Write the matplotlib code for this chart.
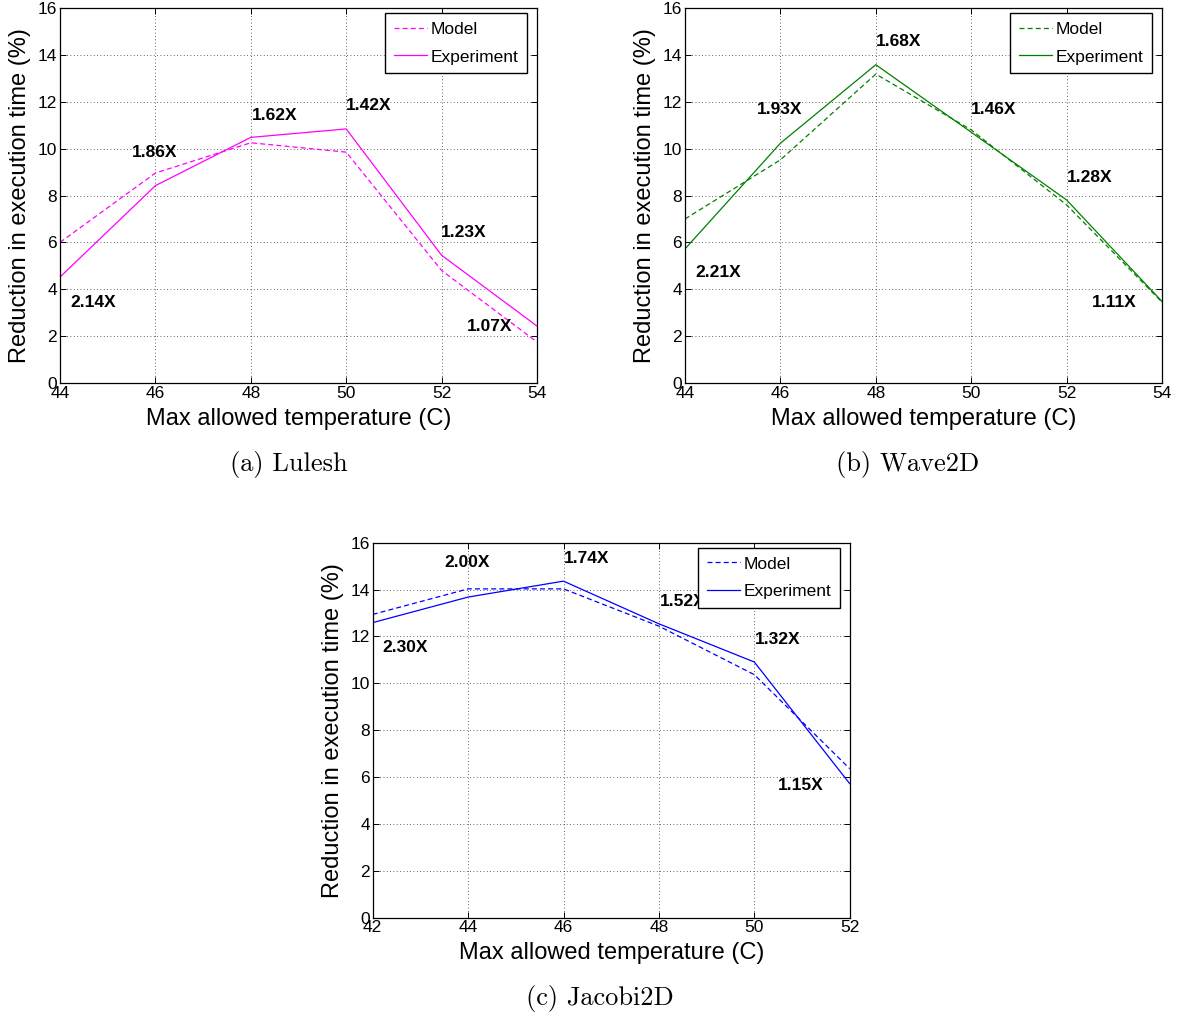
import matplotlib
matplotlib.use('Agg')
import matplotlib.pyplot as plt
import numpy as np

plt.rcParams['font.family'] = ['Liberation Sans', 'DejaVu Sans']

# ---- data ----
temps_ab = [44, 46, 48, 50, 52, 54]
temps_c = [42, 44, 46, 48, 50, 52]

lulesh_model = [6.0, 8.96, 10.25, 9.85, 4.8, 1.75]
lulesh_exp = [4.52, 8.42, 10.48, 10.84, 5.45, 2.43]
lulesh_speedup = ['2.14X', '1.86X', '1.62X', '1.42X', '1.23X', '1.07X']
lulesh_lab_xy = [(44.21, 3.45), (45.5, 9.84), (48.02, 11.43), (50.0, 11.83), (51.99, 6.43), (52.52, 2.43)]

wave_model = [7.0, 9.52, 13.18, 10.8, 7.6, 3.45]
wave_exp = [5.72, 10.23, 13.58, 10.7, 7.81, 3.48]
wave_speedup = ['2.21X', '1.93X', '1.68X', '1.46X', '1.28X', '1.11X']
wave_lab_xy = [(44.21, 4.73), (45.5, 11.69), (48.0, 14.57), (50.0, 11.69), (52.0, 8.78), (52.52, 3.45)]

jacobi_model = [12.94, 14.03, 14.03, 12.44, 10.37, 6.36]
jacobi_exp = [12.59, 13.68, 14.36, 12.54, 10.91, 5.72]
jacobi_speedup = ['2.30X', '2.00X', '1.74X', '1.52X', '1.32X', '1.15X']
jacobi_lab_xy = [(42.2, 11.52), (43.5, 15.17), (46.0, 15.34), (48.03, 13.51), (50.01, 11.87), (50.5, 5.65)]

W, H = 1177, 1019
fig = plt.figure(figsize=(W / 100, H / 100), dpi=100)


def panel(rect, temps, model, exp, labels, lab_xy, color, caption, cap_xy):
    ax = fig.add_axes(rect)
    ax.plot(temps, model, color=color, lw=0.9, dashes=(4, 2.5), label='Model')
    ax.plot(temps, exp, color=color, lw=0.9, label='Experiment')
    ax.set_xlim(temps[0], temps[-1])
    ax.set_ylim(0, 16)
    ax.set_xticks(temps)
    ax.set_yticks(np.arange(0, 17, 2))
    ax.grid(True, linestyle=(0, (1, 3)), color='black', lw=0.6, alpha=0.8)
    ax.tick_params(direction='in', top=True, right=True, labelsize=12.5,
                   length=4, width=0.7, pad=2)
    for s in ax.spines.values():
        s.set_linewidth(0.9)
    ax.set_xlabel('Max allowed temperature (C)', fontsize=17)
    ax.set_ylabel('Reduction in execution time (%)', fontsize=17)
    ax.xaxis.set_label_coords(0.5, -0.066)
    ax.yaxis.set_label_coords(-0.06, 0.5)
    for t, (x, y) in zip(labels, lab_xy):
        ax.text(x, y, t, fontsize=12.5, fontweight='bold', ha='left', va='center')
    leg = ax.legend(loc='upper right', bbox_to_anchor=(0.979, 0.9866),
                    borderaxespad=0, fancybox=False, fontsize=12.5,
                    handlelength=1.9, handletextpad=0.2, labelspacing=0.72,
                    borderpad=0.5, framealpha=1)
    leg.get_frame().set_edgecolor('black')
    leg.get_frame().set_linewidth(1.0)
    fig.text(cap_xy[0], cap_xy[1], caption, family='cmr10', fontsize=19,
             ha='center', va='center')
    return ax


aw, ah = 477 / W, 375 / H
panel([60 / W, 1 - 383 / H, aw, ah], temps_ab, lulesh_model, lulesh_exp,
      lulesh_speedup, lulesh_lab_xy, '#ff00ff', '(a) Lulesh', (289 / W, 1 - 464 / H))
panel([685 / W, 1 - 383 / H, aw, ah], temps_ab, wave_model, wave_exp,
      wave_speedup, wave_lab_xy, '#008000', '(b) Wave2D', (908 / W, 1 - 464 / H))
panel([372.7 / W, 1 - 917.7 / H, aw, ah], temps_c, jacobi_model, jacobi_exp,
      jacobi_speedup, jacobi_lab_xy, '#0000ff', '(c) Jacobi2D', (600 / W, 1 - 998 / H))

fig.savefig('out.png', dpi=100)
